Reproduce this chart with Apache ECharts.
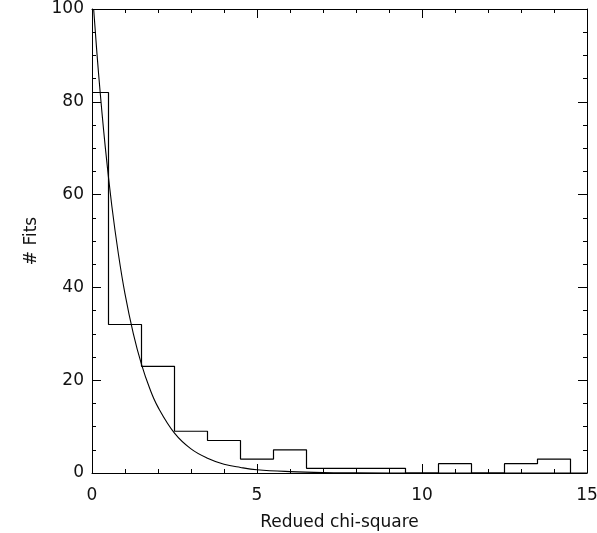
<!DOCTYPE html>
<html>
<head>
<meta charset="utf-8">
<script src="https://cdn.jsdelivr.net/npm/echarts@6/dist/echarts.min.js"></script>
<style>
  html, body { margin: 0; padding: 0; background: #fff; }
  #chart { width: 597px; height: 533px; }
</style>
</head>
<body>
<div id="chart"></div>
<script>
// histogram: left edges of the steps and the counts in each step
var binEdges = [0, 0.5, 1.5, 2.5, 3.5, 4.5, 5.5, 6.5, 7.5, 8.5, 9.5, 10.5, 11.5, 12.5, 13.5, 14.5];
var binCounts = [82, 32, 23, 9, 7, 3, 5, 1, 1, 1, 0, 2, 0, 2, 3, 0];

// fitted curve
var curveX = [0.05, 0.2, 0.4, 0.6, 0.8, 1.0, 1.25, 1.5, 1.75, 2.0, 2.5, 3.0, 3.5, 4.0, 4.5, 5.0, 6.0, 7.0, 8.0, 10.0, 12.0, 15.0];
var curveY = [100, 86, 70.4, 57.6, 47.2, 38.6, 30.1, 23.4, 18.2, 14.2, 8.6, 5.2, 3.2, 1.9, 1.2, 0.7, 0.3, 0.1, 0.05, 0, 0, 0];

var xTicks = [0, 5, 10, 15];
var yTicks = [0, 20, 40, 60, 80, 100];

var histData = [];
for (var i = 0; i < binEdges.length; i++) {
    histData.push([binEdges[i], binCounts[i]]);
}
var curveData = [];
for (var j = 0; j < curveX.length; j++) {
    curveData.push([curveX[j], curveY[j]]);
}

var font = 'DejaVu Sans';
var black = '#000';

function boxAxis(pos, isX, showLabels) {
    var ax = {
        type: 'value',
        position: pos,
        min: isX ? xTicks[0] : yTicks[0],
        max: isX ? xTicks[xTicks.length - 1] : yTicks[yTicks.length - 1],
        interval: isX ? 5 : 20,
        axisLine: { show: true, onZero: false, lineStyle: { color: black, width: 1 } },
        axisTick: { show: true, inside: true, length: 9, lineStyle: { color: black } },
        minorTick: { show: true, splitNumber: isX ? 5 : 4, length: 4, lineStyle: { color: black } },
        splitLine: { show: false },
        axisLabel: {
            show: showLabels,
            color: '#111',
            fontFamily: font,
            fontSize: 17,
            margin: isX ? 14 : 8
        }
    };
    return ax;
}

var xBottom = boxAxis('bottom', true, true);
xBottom.name = 'Redued chi-square';
xBottom.nameLocation = 'middle';
xBottom.nameGap = 41;
xBottom.nameTextStyle = { color: '#111', fontFamily: font, fontSize: 17 };

var yLeft = boxAxis('left', false, true);
yLeft.name = '# Fits';
yLeft.nameLocation = 'middle';
yLeft.nameGap = 52;
yLeft.nameTextStyle = { color: '#111', fontFamily: font, fontSize: 17 };

var myChart = echarts.init(document.getElementById('chart'));
var option = {
    backgroundColor: '#fff',
    animation: false,
    grid: { left: 92, right: 10, top: 9, bottom: 60, containLabel: false, outerBoundsMode: 'none' },
    xAxis: [xBottom, boxAxis('top', true, false)],
    yAxis: [yLeft, boxAxis('right', false, false)],
    series: [{
        name: 'histogram',
        type: 'line',
        step: 'end',
        data: histData,
        showSymbol: false,
        lineStyle: { color: black, width: 1.2 },
        z: 3
    }, {
        name: 'fit',
        type: 'line',
        smooth: 0.4,
        data: curveData,
        showSymbol: false,
        lineStyle: { color: black, width: 1.1 },
        z: 4
    }]
};
myChart.setOption(option);
</script>
</body>
</html>
